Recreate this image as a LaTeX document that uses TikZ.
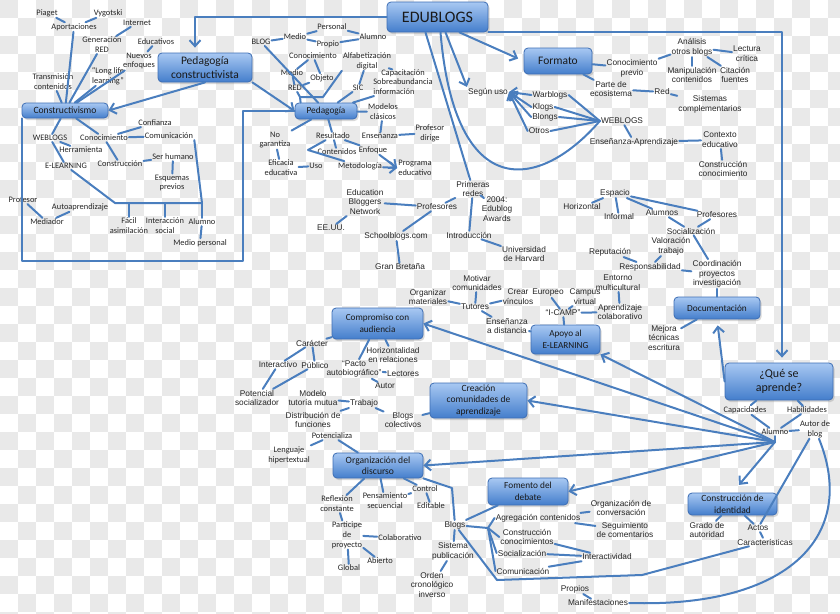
\documentclass[tikz,border=0pt]{standalone}
\usepackage{fontspec}
\setmainfont{Liberation Sans}
\newfontfamily\calfont{Carlito}
\usetikzlibrary{arrows.meta,shadows}
\definecolor{linkblue}{RGB}{74,126,190}
\definecolor{boxtop}{RGB}{168,200,242}
\definecolor{boxbot}{RGB}{68,126,204}
\definecolor{boxedge}{RGB}{62,110,180}
\definecolor{checker}{RGB}{233,233,233}
\begin{document}
\begin{tikzpicture}[x=1pt, y=-1pt, >={Straight Barb[length=6pt,width=11pt]},
    ln/.style={draw=linkblue, line width=2pt, line cap=round, line join=round},
    lbl/.style={font=\fontsize{8.3}{9.8}\selectfont, align=center, inner sep=1pt, text=black!85},
    clbl/.style={font=\calfont\fontsize{8.4}{9.8}\selectfont, align=center, inner sep=1pt, text=black!85},
    box/.style={draw=boxedge, line width=0.8pt, rounded corners=4pt, top color=boxtop, bottom color=boxbot,
        drop shadow={opacity=0.3, shadow xshift=1.5pt, shadow yshift=-2pt},
        align=center, inner sep=0pt, text=black!90}]
    \useasboundingbox (0,0) rectangle (840,613);
    \clip (0,0) rectangle (840,613);
    \fill[white] (0,0) rectangle (840,613);
\foreach \i in {0,36,...,828}
{
    \foreach \j in {0,36,...,612}
    {
        \fill[checker] (\i,\j) rectangle ++(18,18);
        \fill[checker] (\i+18,\j+18) rectangle ++(18,18);
    }
}

    \node[box, minimum width=101pt, minimum height=30pt, font=\calfont\fontsize{16}{18}\selectfont] (edublogs) at (437.5,17) {EDUBLOGS};
    \node[box, minimum width=94pt, minimum height=29pt, font=\calfont\fontsize{11.5}{14}\selectfont] (pedcons) at (205,67.5) {Pedagogía\\constructivista};
    \node[box, minimum width=86pt, minimum height=15pt, font=\calfont\fontsize{9.6}{11}\selectfont] (constr) at (65,110.5) {Constructivismo};
    \node[box, minimum width=62pt, minimum height=16pt, font=\calfont\fontsize{9.3}{11}\selectfont] (pedagogia) at (326,111) {Pedagogía};
    \node[box, minimum width=68pt, minimum height=26pt, font=\calfont\fontsize{11.5}{14}\selectfont] (formato) at (558,61) {Formato};
    \node[box, minimum width=91pt, minimum height=31pt, font=\calfont\fontsize{9.2}{12}\selectfont] (compromiso) at (377.5,323.5) {Compromiso con\\audiencia};
    \node[box, minimum width=69pt, minimum height=29pt, font=\calfont\fontsize{9.2}{12}\selectfont] (apoyo) at (565.5,339.5) {Apoyo al\\E-LEARNING};
    \node[box, minimum width=86pt, minimum height=22pt, font=\calfont\fontsize{9.3}{11}\selectfont] (docum) at (717,308) {Documentación};
    \node[box, minimum width=108pt, minimum height=37pt, font=\calfont\fontsize{12}{14}\selectfont] (quese) at (779,381.5) {¿Qué se\\aprende?};
    \node[box, minimum width=97pt, minimum height=35pt, font=\calfont\fontsize{9.5}{11.5}\selectfont] (creacion) at (478.5,400.5) {Creación\\comunidades de\\aprendizaje};
    \node[box, minimum width=90pt, minimum height=25pt, font=\calfont\fontsize{9.6}{11.5}\selectfont] (orgdisc) at (378,465.5) {Organización del\\discurso};
    \node[box, minimum width=80pt, minimum height=27pt, font=\calfont\fontsize{9.3}{12}\selectfont] (fomento) at (528,491.5) {Fomento del\\debate};
    \node[box, minimum width=89pt, minimum height=22pt, font=\calfont\fontsize{9.5}{11.5}\selectfont] (identidad) at (732.5,504) {Construcción de\\identidad};

\foreach \n/\x/\y/\t in {piaget/47/13/Piaget, vygot/108/13/Vygotski, aport/74/27/Aportaciones,
    internet/137/23/Internet, genred/102/45/{Generación\\RED}, educat/156/42/Educativos,
    nuevos/139/61/{Nuevos\\enfoques}, longlife/108/76/{“Long life\\learning”},
    transm/53/82/{Transmisión\\contenidos}, confianza/155/123/Confianza, comunicA/169/136/Comunicación,
    weblogsA/50/138/WEBLOGS, conocA/104/138/Conocimiento, herram/81/150/Herramienta,
    construA/120/164/Construcción, serhum/173/157/Ser humano, elearn/66/166/E-LEARNING,
    esquemas/172/183/{Esquemas\\previos}, profesorA/23/200/Profesor, autoap/80/207/Autoaprendizaje,
    mediador/47/222/Mediador, facil/129/226/{Fácil\\asimilación}, interacA/165/226/{Interacción\\social},
    alumnoA/202/222/Alumno, medioper/200/243/Medio personal,
    blog/261/42/BLOG, medioB/295/37/Medio, personal/332/27/Personal, propio/328/44/Propio,
    alumnoB/373/37/Alumno, conocB/313/56/Conocimiento, medioC/292/73/Medio, objeto/322/78/Objeto,
    redA/295/88/RED, alfab/367/61/{Alfabetización\\digital}, capac/403/73/Capacitación,
    sic/358/88/SIC, modelos/383/112/{Modelos\\clásicos}, ensenB/380/136/Enseñanza,
    profdir/430/133/{Profesor\\dirige}, nogar/275/140/{No\\garantiza}, result/333/136/Resultado,
    conten/337/152/Contenidos, enfoque/373/150/Enfoque, metodo/360/166/Metodología,
    progra/415/168/{Programa\\educativo}, eficacia/281/168/{Eficacia\\educativa}, uso/316/166/Uso,
    potenc/332/436/Potencializa, lenguaje/289/455/{Lenguaje\\hipertextual},
    reflex/337/504/{Reflexión\\constante}, pensam/385/501/{Pensamiento\\secuencial},
    particip/347/535/{Participe\\de\\proyecto}, colab/400/538/Colaborativo, abierto/380/561/Abierto,
    global/349/568/Global, control/425/489/Control, editable/431/506/Editable,
    capac2/745/410/Capacidades, habil/807/410/Habilidades, alumnoD/775/432/Alumno,
    autorblog/815/429/{Autor de\\blog}}
{
    \node[clbl] (\n) at (\x,\y) {\t};
}
    \node[clbl, align=left] (sobre) at (403,87) {Sobreabundancia\\información};

\foreach \n/\x/\y/\t in {ebn/365/202/{Education\\Bloggers\\Network}, eeuu/331/228/EE.UU.,
    profesC/437/207/Profesores, school/396/236/Schoolblogs.com, granbr/400/267/Gran Bretaña,
    primeras/473/189/{Primeras\\redes}, edublog/497/209/{2004:\\Edublog\\Awards},
    intro/469/235/Introducción, harvard/524/254/{Universidad\\de Harvard},
    segun/488/92/Según uso, warblogs/550/95/Warblogs, klogs/543/107/Klogs, blongs/545/117/Blongs,
    otros/539/131/Otros, weblogsB/622/121/WEBLOGS, ensapr/634/142/Enseñanza-Aprendizaje,
    conprev/632/68/{Conocimiento\\previo}, parte/611/89/{Parte de\\ecosistema},
    analisis/692/47/{Análisis\\otros blogs}, lectura/747/54/{Lectura\\crítica},
    manip/692/75/{Manipulación\\contenidos}, citac/735/75/{Citación\\fuentes}, redB/662/92/Red,
    sistemas/710/104/{Sistemas\\complementarios}, contexto/720/140/{Contexto\\educativo},
    construB/723/169/{Construcción\\conocimiento}, espacio/615/193/Espacio, horiz/582/207/Horizontal,
    informal/619/217/Informal, alumnosC/662/213/Alumnos, profesD/717/215/Profesores,
    socialA/691/231/Socialización, valor/671/246/{Valoración\\trabajo}, reput/610/252/Reputación,
    respon/650/267/Responsabilidad, coord/717/274/{Coordinación\\proyectos\\investigación},
    entorno/618/283/{Entorno\\multicultural}, aprcol/620/312/{Aprendizaje\\colaborativo},
    mejora/664/338/{Mejora\\técnicas\\escritura}, organiz/428/297/{Organizar\\materiales},
    motivar/477/283/{Motivar\\comunidades}, crear/518/297/{Crear\\vínculos}, tutores/475/307/Tutores,
    ensdist/507/326/{Enseñanza\\a distancia}, europeo/548/293/Europeo, campus/585/297/{Campus\\virtual},
    icamp/563/313/“I-CAMP”, caracter/312/343/Carácter, interactA/278/365/Interactivo,
    publico/315/365/Público, pacto/354/369/{“Pacto\\autobiográfico”},
    horizon/393/355/{Horizontalidad\\en relaciones}, lectores/403/374/Lectores, autor/385/386/Autor,
    potsoc/257/398/{Potencial\\socializador}, modelo/313/398/{Modelo\\tutoría mutua},
    trabajo/364/403/Trabajo, distrib/313/420/{Distribución de\\funciones},
    blogscol/403/420/{Blogs\\colectivos}, blogs/455/525/Blogs, sistpub/453/551/{Sistema\\publicación},
    orden/432/585/{Orden\\cronológico\\inverso}, agreg/538/518/Agregación contenidos,
    constC/527/537/{Construcción\\conocimientos}, socialB/522/553/Socialización,
    comunB/523/571/Comunicación, interactiv/607/557/Interactividad,
    orgconv/621/508/{Organización de\\conversación}, seguim/625/530/{Seguimiento\\de comentarios},
    propios/575/589/Propios, manif/598/603/Manifestaciones, grado/707/530/{Grado de\\autoridad},
    actos/758/528/Actos, caract/765/542/Características}
{
    \node[lbl] (\n) at (\x,\y) {\t};
}

    \coordinate (hub) at (775,442);
    \coordinate (j1) at (300,97);
    \coordinate (apexR) at (308,150);
    \coordinate (brkL) at (115,203);
    \coordinate (brkR) at (202,203);
    \coordinate (fan) at (488,528);
    \coordinate (bend) at (452,488);

\foreach \a/\b in {piaget/aport, vygot/aport, aport/constr, internet/genred, genred/constr,
    educat/nuevos, nuevos/constr, longlife/constr, transm/constr, weblogsA/constr, weblogsA/herram,
    weblogsA/elearn, conocA/constr, conocA/confianza, conocA/comunicA, conocA/construA,
    construA/serhum, serhum/esquemas, profesorA/mediador, autoap/mediador, alumnoA/medioper,
    blog/pedagogia, blog/medioB, medioB/personal, medioB/propio, personal/alumnoB, propio/alumnoB,
    conocB/medioC, conocB/objeto, medioC/redA, objeto/redA, alfab/sic, alfab/capac, sic/pedagogia,
    sobre/pedagogia, modelos/pedagogia, modelos/ensenB, ensenB/profdir, pedagogia/nogar,
    nogar/eficacia, eficacia/uso, result/pedagogia, result/conten, result/enfoque,
    formato/conprev, formato/parte, conprev/analisis, analisis/lectura, analisis/manip,
    analisis/citac, parte/redB, redB/sistemas, weblogsB/ensapr, ensapr/contexto, contexto/construB,
    ebn/eeuu, ebn/profesC, profesC/school, school/granbr, primeras/profesC, primeras/edublog,
    primeras/intro, intro/harvard, espacio/horiz, espacio/informal, espacio/alumnosC,
    espacio/profesD, alumnosC/socialA, profesD/socialA, socialA/coord, valor/respon, reput/respon,
    respon/coord, coord/docum, docum/mejora, entorno/aprcol, tutores/motivar, tutores/organiz,
    tutores/crear, tutores/ensdist, ensdist/apoyo, europeo/icamp, campus/icamp, icamp/aprcol,
    icamp/apoyo, quese/capac2, quese/habil, capac2/alumnoD, habil/alumnoD, alumnoD/autorblog,
    alumnoD/hub, autorblog/actos, identidad/grado, identidad/actos, actos/caract,
    compromiso/caracter, caracter/interactA, caracter/publico, interactA/potsoc, publico/potsoc,
    pacto/compromiso, horizon/compromiso, pacto/lectores, pacto/autor, modelo/trabajo,
    trabajo/distrib, trabajo/blogscol, blogscol/creacion, potenc/lenguaje, potenc/orgdisc,
    orgdisc/reflex, orgdisc/pensam, reflex/particip, particip/colab, particip/abierto,
    particip/global, pensam/control, orgdisc/control, control/editable, blogs/sistpub,
    sistpub/orden, blogs/fomento, blogs/fan, agreg/orgconv, agreg/seguim, constC/interactiv,
    socialB/interactiv, comunB/interactiv, propios/manif}
{
    \draw[ln] (\a) -- (\b);
}
\foreach \n in {agreg, constC, socialB, comunB}
{
    \draw[ln] (fan) -- (\n.west);
}
\foreach \n in {warblogs, klogs, blongs, otros}
{
    \draw[ln] (\n.east) -- (weblogsB.west);
    \draw[ln, ->] (\n.west) -- (segun.east);
}
\foreach \n in {facil, interacA, alumnoA}
{
    \draw[ln] (\n.north |- brkR) -- (\n.north);
}
\foreach \n/\an in {compromiso/east, apoyo/south east, creacion/east, orgdisc/east, fomento/east}
{
    \draw[ln, ->] (hub) -- (\n.\an);
}
    \draw[ln, ->, shorten >=10pt] (hub) -- (identidad.north);
    \draw[ln, ->, shorten >=6pt] (quese.west) -- (docum.south);
    \draw[ln, ->] (enfoque) -- (progra.west);
    \draw[ln, ->] (metodo) -- (progra.west);
    \draw[ln] (result) -- (apexR) -- (metodo);
    \draw[ln] (alfab.south west) -- (323,97) -- (j1);
    \draw[ln] (redA) -- (j1) -- ([xshift=6pt]pedagogia.north west);
    \draw[ln] (elearn) -- (brkL) -- (brkR);
    \draw[ln] (comunicA.south east) -- (brkR);
    \draw[ln] (constr.south west) |- (243,261) |- (pedagogia.west);
    \draw[ln, ->] (pedcons.south) -- (constr.east);
    \draw[ln, ->] (pedcons.south east) -- (pedagogia.west);
    \draw[ln, ->, shorten >=5pt] (edublogs.west) -| ([xshift=-10pt]pedcons.north);
    \draw[ln, ->, shorten >=5pt] (edublogs.south east) -| ([xshift=3pt]quese.north);
    \draw[ln] ([xshift=-12pt]edublogs.south) -- (primeras);
    \draw[ln, ->] ([xshift=8pt]edublogs.south) -- (segun.north west);
    \draw[ln, ->, shorten >=6pt] ([xshift=22pt]edublogs.south) -- (formato.west);
    \draw[ln] ([xshift=3pt]edublogs.south) .. controls (455,205) and (540,190) .. (weblogsB.west);
    \draw[ln] (orgdisc.south east) -- (bend) -- (blogs);
    \draw[ln] (blogs) -- (497,580) -- (642,575) -- (caract);
    \draw[ln] (autorblog) .. controls (858,535) and (790,608) .. (manif.east);

\end{tikzpicture}
\end{document}
